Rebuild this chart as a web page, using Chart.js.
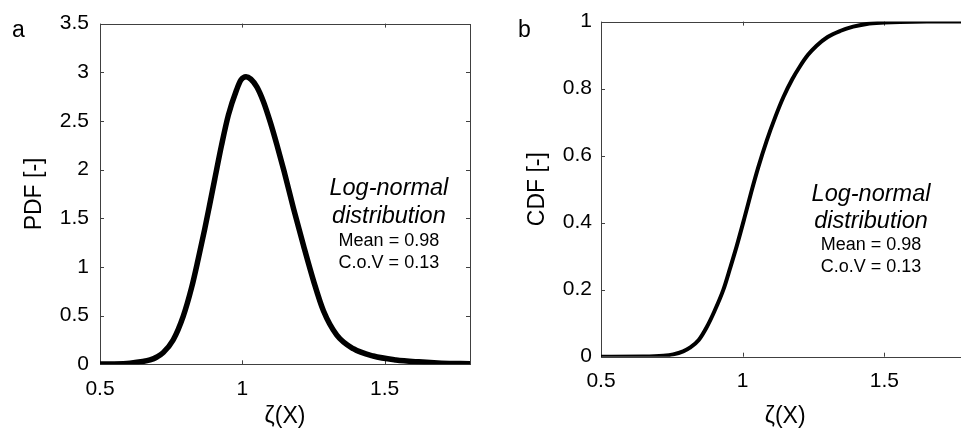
<!DOCTYPE html>
<html><head><meta charset="utf-8">
<script src="https://cdn.jsdelivr.net/npm/chart.js@4.4.1/dist/chart.umd.min.js"></script>
<style>
html,body{margin:0;padding:0;background:#fff;overflow:hidden;width:961px;height:428px;}
#a{position:absolute;left:0;top:0;}
#b{position:absolute;left:480px;top:0;}
</style></head><body>
<canvas id="a" width="480" height="428"></canvas>
<canvas id="b" width="500" height="428"></canvas>
<script>
// ---- data ----
const pdfX = [0.50, 0.55, 0.605, 0.65, 0.676, 0.70, 0.722, 0.757, 0.792, 0.822, 0.845, 0.868, 0.884, 0.903, 0.927, 0.951, 0.98, 0.995, 1.013, 1.03, 1.051, 1.074, 1.098, 1.121, 1.147, 1.18, 1.215, 1.25, 1.285, 1.332, 1.39, 1.46, 1.54, 1.62, 1.70, 1.80];
const pdfY = [0.002, 0.004, 0.012, 0.028, 0.045, 0.075, 0.12, 0.25, 0.49, 0.79, 1.08, 1.39, 1.62, 1.90, 2.25, 2.56, 2.82, 2.92, 2.955, 2.93, 2.85, 2.70, 2.49, 2.26, 1.98, 1.60, 1.22, 0.86, 0.55, 0.30, 0.16, 0.085, 0.045, 0.025, 0.012, 0.005];
const cdfX = [0.50, 0.65, 0.72, 0.755, 0.79, 0.814, 0.845, 0.873, 0.90, 0.932, 0.956, 0.979, 1.005, 1.03, 1.055, 1.085, 1.115, 1.144, 1.175, 1.202, 1.23, 1.261, 1.30, 1.344, 1.39, 1.438, 1.50, 1.555, 1.65, 1.80];
const cdfY = [0.00, 0.0005, 0.003, 0.007, 0.016, 0.027, 0.05, 0.088, 0.135, 0.20, 0.265, 0.33, 0.41, 0.49, 0.565, 0.645, 0.715, 0.775, 0.828, 0.866, 0.90, 0.928, 0.954, 0.972, 0.985, 0.993, 0.997, 0.999, 1.00, 1.00];
const xTicks = [0.5, 1, 1.5];
const pdfYTicks = [0, 0.5, 1, 1.5, 2, 2.5, 3, 3.5];
const cdfYTicks = [0, 0.2, 0.4, 0.6, 0.8, 1];
const xTitle = 'ζ(X)';
const pdfTitle = 'PDF [-]';
const cdfTitle = 'CDF [-]';
const annotTitle = ['Log-normal', 'distribution'];
const annotStats = ['Mean = 0.98', 'C.o.V = 0.13'];
const panelA = 'a';
const panelB = 'b';

const FONT = '"Liberation Sans", Arial, Helvetica, sans-serif';

const boxPlugin = {
  id: 'box',
  beforeDatasetsDraw(chart) {
    const {ctx, chartArea: ca, scales: {x, y}} = chart;
    ctx.save();
    ctx.strokeStyle = '#404040';
    ctx.lineWidth = 1;
    ctx.strokeRect(Math.round(ca.left) + 0.5, Math.round(ca.top) + 0.5,
                   Math.round(ca.right) - Math.round(ca.left), Math.round(ca.bottom) - Math.round(ca.top));
    const L = 4;
    ctx.beginPath();
    x.ticks.forEach(t => {
      const px = Math.round(x.getPixelForValue(t.value)) + 0.5;
      ctx.moveTo(px, ca.bottom); ctx.lineTo(px, ca.bottom - L);
      ctx.moveTo(px, ca.top); ctx.lineTo(px, ca.top + L);
    });
    y.ticks.forEach(t => {
      const py = Math.round(y.getPixelForValue(t.value)) + 0.5;
      ctx.moveTo(ca.left, py); ctx.lineTo(ca.left + L, py);
      ctx.moveTo(ca.right, py); ctx.lineTo(ca.right - L, py);
    });
    ctx.stroke();
    ctx.restore();
  },
  afterDraw(chart, args, opts) {
    const {ctx, scales: {x, y}} = chart;
    ctx.save();
    ctx.fillStyle = '#000';
    ctx.textBaseline = 'alphabetic';
    ctx.textAlign = 'left';
    ctx.font = '23px ' + FONT;
    ctx.fillText(opts.panel, opts.panelPos[0], opts.panelPos[1]);
    ctx.textAlign = 'center';
    const cx = x.getPixelForValue(opts.textX);
    ctx.font = 'italic 23.5px ' + FONT;
    annotTitle.forEach((s, i) => ctx.fillText(s, cx, y.getPixelForValue(opts.textY[i])));
    ctx.font = '18px ' + FONT;
    annotStats.forEach((s, i) => ctx.fillText(s, cx, y.getPixelForValue(opts.textY[i + 2])));
    ctx.restore();
  }
};

function makeChart(id, xs, ys, yTicks, yMax, yTitle, lw, cfg) {
  return new Chart(document.getElementById(id), {
    type: 'line',
    data: {
      datasets: [{
        data: xs.map((v, i) => ({x: v, y: ys[i]})),
        borderColor: '#000',
        borderWidth: lw,
        pointRadius: 0,
        fill: false,
        cubicInterpolationMode: 'monotone',
        borderCapStyle: 'round',
        borderJoinStyle: 'round'
      }]
    },
    options: {
      responsive: false,
      animation: false,
      events: [],
      layout: {padding: cfg.padding},
      plugins: {legend: {display: false}, tooltip: {enabled: false},
        box: {panel: cfg.panel, panelPos: cfg.panelPos, textX: cfg.textX, textY: cfg.textY}},
      scales: {
        x: {
          type: 'linear', min: 0.5, max: 1.8,
          afterBuildTicks: s => { s.ticks = xTicks.map(v => ({value: v})); },
          afterFit: s => { s.height = cfg.xHeight; },
          grid: {display: false, drawTicks: false},
          border: {display: false},
          ticks: {color: '#000', padding: 12, font: {family: FONT, size: 21}, callback: v => String(v), maxRotation: 0},
          title: {display: true, text: xTitle, color: '#000', font: {family: FONT, size: 23, lineHeight: 1}, padding: {top: 0, bottom: 0}}
        },
        y: {
          type: 'linear', min: 0, max: yMax,
          afterBuildTicks: s => { s.ticks = yTicks.map(v => ({value: v})); },
          afterFit: s => { s.width = cfg.yWidth; },
          grid: {display: false, drawTicks: false},
          border: {display: false},
          ticks: {color: '#000', padding: cfg.yPad, font: {family: FONT, size: 21}, callback: v => String(v)},
          title: {display: true, text: yTitle, color: '#000', font: {family: FONT, size: 23, lineHeight: 1}, padding: {top: cfg.yTitlePad, bottom: 0}}
        }
      }
    },
    plugins: [boxPlugin]
  });
}

makeChart('a', pdfX, pdfY, pdfYTicks, 3.5, pdfTitle, 5.5, {
  padding: {left: 0, top: 15.7, right: 10, bottom: 0},
  xHeight: 63.7, yWidth: 100, yPad: 11, yTitlePad: 23.5,
  panel: panelA, panelPos: [12, 37],
  textX: 1.515, textY: [1.742, 1.455, 1.214, 0.986]
});
makeChart('b', cdfX, cdfY, cdfYTicks, 1, cdfTitle, 4, {
  padding: {left: 0, top: 12.3, right: 10.7, bottom: 0},
  xHeight: 71.3, yWidth: 121, yPad: 9, yTitlePad: 46.5,
  panel: panelB, panelPos: [38, 37],
  textX: 1.453, textY: [0.4646, 0.385, 0.3177, 0.2517]
});
</script>
</body></html>
